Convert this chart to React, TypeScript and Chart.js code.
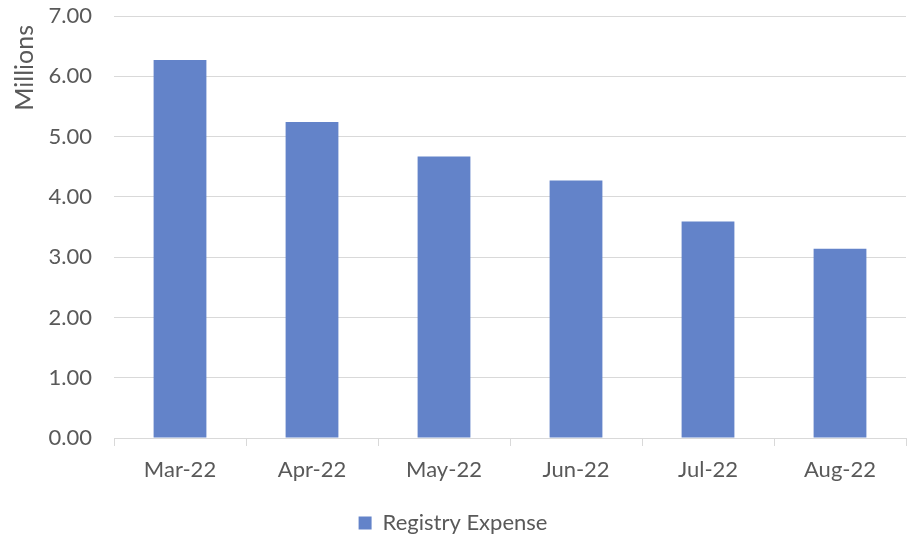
import React, { useEffect, useRef } from "react";
import { Chart, registerables } from "chart.js";

Chart.register(...registerables);

const categories = ["Mar-22", "Apr-22", "May-22", "Jun-22", "Jul-22", "Aug-22"];
const registryExpense = [6.27, 5.24, 4.67, 4.27, 3.59, 3.14];
const seriesLabel = "Registry Expense";
const yAxisTitle = "Millions";
const yMin = 0;
const yMax = 7;
const yStep = 1;

const FONT = "Lato, 'Liberation Sans', sans-serif";
const TEXT = "#595959";
const GRID = "#D9D9D9";
const BAR = "#6383C9";

// shifts the y-axis title slightly down from the very top of the axis (Excel-like)
const titleShift = {
  id: "titleShift",
  beforeDraw(chart: any) {
    const ys = chart.scales.y;
    if (ys && !ys.__patched) {
      const orig = ys.drawTitle.bind(ys);
      ys.drawTitle = function () {
        const t = this.top;
        this.top = t + 9;
        orig();
        this.top = t;
      };
      ys.__patched = true;
    }
  },
};

export default function App() {
  const ref = useRef<HTMLCanvasElement | null>(null);

  useEffect(() => {
    document.body.style.margin = "0";
    const canvas = ref.current;
    if (!canvas) return;
    const chart = new Chart(canvas, {
      type: "bar",
      data: {
        labels: categories,
        datasets: [
          {
            label: seriesLabel,
            data: registryExpense,
            backgroundColor: BAR,
            borderWidth: 0,
            barPercentage: 0.4,
            categoryPercentage: 1.0,
          },
        ],
      },
      plugins: [titleShift],
      options: {
        animation: false,
        responsive: false,
        maintainAspectRatio: false,
        layout: { padding: { left: 0, right: 6, top: 16, bottom: -7 } },
        plugins: {
          tooltip: { enabled: false },
          legend: {
            position: "bottom",
            labels: {
              boxWidth: 13,
              boxHeight: 13,
              padding: 1,
              color: TEXT,
              font: { family: FONT, size: 22 },
            },
          },
        },
        scales: {
          x: {
            afterFit: (scale: any) => {
              scale.height = 73;
            },
            grid: {
              display: true,
              drawOnChartArea: false,
              drawTicks: true,
              tickLength: 8,
              color: GRID,
              offset: true,
            },
            border: { display: true, color: GRID, width: 1 },
            ticks: {
              color: TEXT,
              font: { family: FONT, size: 22 },
              padding: 11,
              maxRotation: 0,
            },
          },
          y: {
            min: yMin,
            max: yMax,
            afterFit: (scale: any) => {
              scale.width = 114;
              scale.paddingTop = 0;
              scale.paddingBottom = 0;
            },
            ticks: {
              stepSize: yStep,
              color: TEXT,
              font: { family: FONT, size: 22 },
              padding: 22,
              callback: (v: any) => Number(v).toFixed(2),
            },
            grid: { color: GRID, lineWidth: 1, drawTicks: false },
            border: { display: false },
            title: {
              display: true,
              text: yAxisTitle,
              align: "end",
              color: TEXT,
              font: { family: FONT, size: 25 },
              padding: { top: 10, bottom: 0 },
            },
          },
        },
      },
    });
    return () => chart.destroy();
  }, []);

  return (
    <div style={{ width: 912, height: 537, background: "#fff" }}>
      <canvas ref={ref} width={912} height={537} style={{ display: "block" }} />
    </div>
  );
}
